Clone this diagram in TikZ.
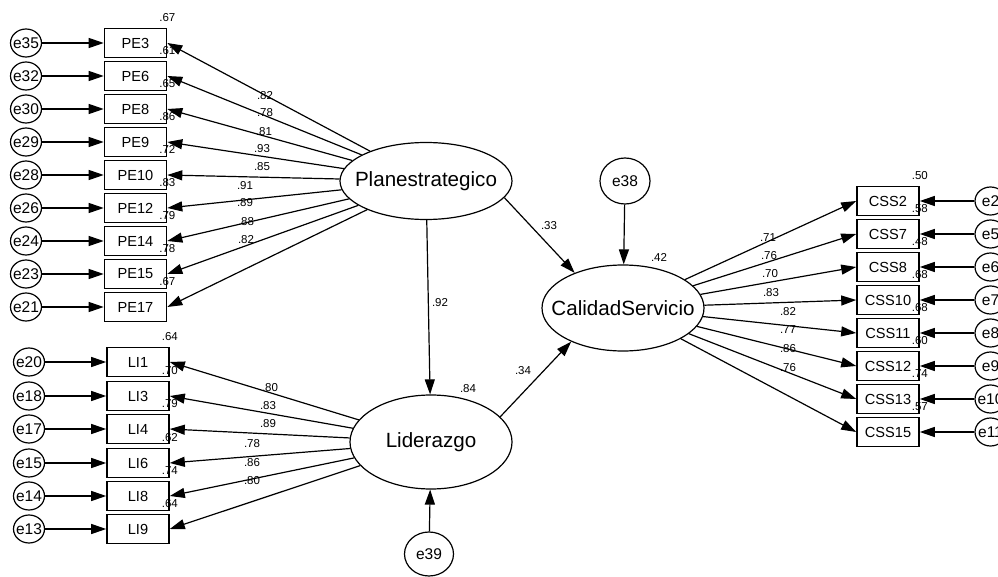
\documentclass[tikz,border=0pt]{standalone}
\usepackage{fontspec}
\setmainfont{Liberation Sans}
\usetikzlibrary{shapes.geometric,arrows.meta}

\tikzset{
  obs/.style={draw, line width=1.6pt, minimum width=62pt, minimum height=29pt,
    inner sep=0pt, font=\fontsize{14.6}{16}\selectfont},
  lat/.style={ellipse, draw, line width=1.2pt, inner sep=0pt,
    font=\fontsize{20.6}{24}\selectfont},
  err/.style={ellipse, draw, line width=1.2pt, inner sep=0pt,
    minimum width=31pt, minimum height=28pt, font=\fontsize{15.5}{17}\selectfont},
  coef/.style={inner sep=0pt, font=\fontsize{11.5}{13}\selectfont},
  arr/.style={line width=1.2pt, -{Triangle[length=15pt,width=10pt]}},
}

\begin{document}
\begin{tikzpicture}[x=1pt,y=-1pt]
  \path[use as bounding box, fill=white] (0,0) rectangle (998,577);

  \node[lat, minimum width=172pt, minimum height=77pt] (pe) at (426,181) {\makebox[0pt]{Planestrategico}};
  \node[lat, minimum width=162pt, minimum height=94pt] (li) at (431,442) {\makebox[0pt]{Liderazgo}};
  \node[lat, minimum width=162pt, minimum height=86pt] (cs) at (623,308) {\makebox[0pt]{CalidadServicio}};
  \node[err, minimum width=50pt, minimum height=46pt] (e38) at (625,181) {\makebox[0pt]{e38}};
  \node[err, minimum width=49pt, minimum height=44pt] (e39) at (429,554) {\makebox[0pt]{e39}};

  % Planestrategico indicators
  \foreach \b/\y/\e/\r/\l/\lx/\ly in {
      PE3/43/e35/.67/.82/265/96, PE6/76/e32/.61/.78/265/113,
      PE8/109/e30/.65/.81/264/132, PE9/142/e29/.86/.93/262/149,
      PE10/175/e28/.72/.85/262/167, PE12/208/e26/.83/.91/245/186,
      PE14/241/e24/.79/.89/245/203, PE15/274/e23/.78/.88/246/222,
      PE17/307/e21/.67/.82/246/240}
  {
    \node[obs] (\b) at (135.5,\y) {\b};
    \node[err] (\e) at (26,\y) {\makebox[0pt]{\e}};
    \node[coef, above=6pt] (r\b) at (\b.north east) {\r};
    \draw[arr] (\e) -- (\b);
    \draw[arr] (pe) -- (\b.east);
    \node[coef] (l\b) at (\lx,\ly) {\l};
  }

  % Liderazgo indicators
  \foreach \b/\y/\e/\r/\l/\lx/\ly in {
      LI1/362/e20/.64/.80/270/388, LI3/396/e18/.70/.83/268/406,
      LI4/429/e17/.79/.89/268/424, LI6/463/e15/.62/.78/252/444,
      LI8/496/e14/.74/.86/252/463, LI9/529/e13/.64/.80/252/481}
  {
    \node[obs] (\b) at (138,\y) {\b};
    \node[err] (\e) at (29,\y) {\makebox[0pt]{\e}};
    \node[coef, above=6pt] (r\b) at (\b.north east) {\r};
    \draw[arr] (\e) -- (\b);
    \draw[arr] (li) -- (\b.east);
    \node[coef] (l\b) at (\lx,\ly) {\l};
  }

  % CalidadServicio indicators
  \foreach \b/\y/\e/\r/\l/\lx/\ly in {
      CSS2/201/e2/.50/.71/768/238, CSS7/234/e5/.58/.76/769/256,
      CSS8/267/e6/.48/.70/770/274, CSS10/300/e7/.68/.83/771/293,
      CSS11/333/e8/.68/.82/788/312, CSS12/366/e9/.60/.77/788/330,
      CSS13/399/e10/.74/.86/788/349, CSS15/432/e11/.57/.76/788/368}
  {
    \node[obs] (\b) at (888,\y) {\b};
    \node[err] (\e) at (990.5,\y) {\makebox[0pt]{\e}};
    \node[coef, above=6pt] (r\b) at (\b.north east) {\r};
    \draw[arr] (\e) -- (\b);
    \draw[arr] (cs) -- (\b.west);
    \node[coef] (l\b) at (\lx,\ly) {\l};
  }

  \draw[arr] (pe) -- (li);
  \draw[arr] (pe.-12) -- (cs.144);
  \draw[arr] (li.20) -- (cs.-147);
  \draw[arr] (e38) -- (cs);
  \draw[arr] (e39) -- (li);

  \node[coef] (pli) at (440,303) {.92};
  \node[coef] (pcs) at (549,226) {.33};
  \node[coef] (lcs) at (523,371) {.34};
  \node[coef] (rli) at (468,389) {.84};
  \node[coef] (rcs) at (659,257) {.42};
\end{tikzpicture}
\end{document}
